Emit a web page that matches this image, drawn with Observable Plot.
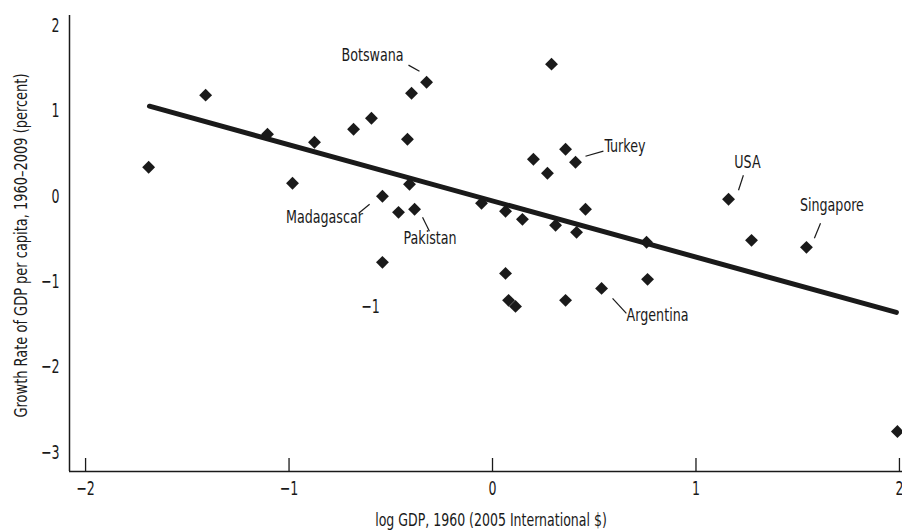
<!DOCTYPE html>
<html><head><meta charset="utf-8">
<script src="https://cdn.jsdelivr.net/npm/d3@7"></script>
<script src="https://cdn.jsdelivr.net/npm/@observablehq/plot@0.6"></script>
<style>
html,body{margin:0;padding:0;background:#fff;}
#chart svg{display:block;}
</style></head><body><div id="chart"></div>
<script>
// log GDP 1960 (x) and growth rate 1960-2009 (y) for each country
const gdp1960 = [-1.690,-1.410,-1.106,-0.875,-0.983,-0.683,-0.595,-0.418,-0.398,-0.324,
  -0.408,-0.541,-0.462,-0.383,-0.541,-0.054,0.064,0.147,0.064,0.079,0.113,
  0.201,0.270,0.290,0.359,0.408,0.310,0.413,0.457,0.359,0.536,0.757,0.762,
  1.160,1.273,1.543,1.990];
const growth = [0.340,1.184,0.727,0.633,0.152,0.785,0.914,0.668,1.207,1.336,
  0.141,0.000,-0.188,-0.152,-0.774,-0.082,-0.176,-0.270,-0.903,-1.219,-1.290,
  0.434,0.270,1.547,0.551,0.399,-0.340,-0.422,-0.152,-1.219,-1.079,-0.539,-0.973,
  -0.035,-0.516,-0.598,-2.755];

// fitted regression line end points
const fitX = [-1.686, 1.985];
const fitY = [1.055, -1.360];

const xTicks = [-2, -1, 0, 1, 2];
const yTicks = [-3, -2, -1, 0, 1, 2];
const xDomain = [-2.079, 2.015];
const yDomain = [-3.223, 2.117];

// annotations
const labelNames = ["Botswana","Madagascar","Pakistan","Turkey","USA","Singapore","Argentina"];
const labelX = [-0.590,-0.826,-0.307,0.651,1.253,1.668,0.811];
const labelY = [1.653,-0.245,-0.492,0.586,0.404,-0.106,-1.395];
const leadX1 = [-0.413,-0.658,-0.344,0.457,1.233,1.612,0.590];
const leadY1 = [1.536,-0.199,-0.246,0.469,0.246,-0.317,-1.196];
const leadX2 = [-0.359,-0.604,-0.310,0.545,1.209,1.582,0.658];
const leadY2 = [1.465,-0.094,-0.410,0.528,0.070,-0.492,-1.372];
const strayText = ["−1"];
const strayX = [-0.600];
const strayY = [-1.290];

const xTitle = "log GDP, 1960 (2005 International $)";
const yTitle = "Growth Rate of GDP per capita, 1960–2009 (percent)";

const pts = gdp1960.map((x, i) => ({x, y: growth[i]}));
const fit = fitX.map((x, i) => ({x, y: fitY[i]}));
const fmt = d => d < 0 ? "−" + Math.abs(d) : String(d);
const ink = "#1a1a1a";
const tickLen = 13 / 85.3;

const chart = Plot.plot({
  width: 902, height: 532,
  marginLeft: 69, marginRight: 0, marginTop: 15, marginBottom: 61,
  style: {fontFamily: "'Liberation Sans Narrow', 'DejaVu Sans Condensed', 'DejaVu Sans', sans-serif", background: "#fff", color: ink},
  x: {domain: xDomain, axis: null},
  y: {domain: yDomain, axis: null},
  marks: [
    Plot.axisX({ticks: xTicks, tickFormat: fmt, tickSize: 0, tickPadding: 10, fontSize: 19.5, label: null}),
    Plot.axisY({ticks: yTicks, tickFormat: fmt, tickSize: 0, tickPadding: 10, fontSize: 19.5, label: null}),
    Plot.ruleX(xTicks, {x: d => d, y1: yDomain[0], y2: yDomain[0] + tickLen, stroke: ink, strokeWidth: 1.3}),
    Plot.ruleX([xDomain[0]], {stroke: ink, strokeWidth: 1.5}),
    Plot.ruleY([yDomain[0]], {stroke: ink, strokeWidth: 1.5}),
    Plot.line(fit, {x: "x", y: "y", stroke: ink, strokeWidth: 5}),
    Plot.dot(pts, {x: "x", y: "y", symbol: "diamond2", r: 5.8, fill: ink, stroke: "none"}),
    Plot.link(labelNames, {x1: (d, i) => leadX1[i], y1: (d, i) => leadY1[i], x2: (d, i) => leadX2[i], y2: (d, i) => leadY2[i], stroke: ink, strokeWidth: 1.2}),
    Plot.text(labelNames, {x: (d, i) => labelX[i], y: (d, i) => labelY[i], text: d => d, fontSize: 18.5, lineAnchor: "middle", fill: ink}),
    Plot.text(strayText, {x: (d, i) => strayX[i], y: (d, i) => strayY[i], text: d => d, fontSize: 19.5, lineAnchor: "middle", fill: ink}),
    Plot.text([xTitle], {frameAnchor: "bottom", text: d => d, dx: 5, dy: 49, fontSize: 17, textAnchor: "middle", lineAnchor: "middle", fill: ink}),
    Plot.text([yTitle], {frameAnchor: "left", text: d => d, dx: -48, dy: 2, rotate: -90, fontSize: 17.5, textAnchor: "middle", lineAnchor: "middle", fill: ink})
  ]
});
document.getElementById("chart").appendChild(chart);

// condense the text horizontally to mimic the narrow typeface of the original
function squeezeFor(s) {
  if (s === xTitle) return 0.82;
  if (labelNames.includes(s)) return 0.763;
  return 0.72;
}
chart.querySelectorAll("text").forEach(t => {
  const s = t.textContent;
  if (!s) return;
  if (s === yTitle) {
    // rotated title: squeeze along its own baseline, keeping it centred
    const tr = t.getAttribute("transform") || "";
    t.setAttribute("transform", tr + " scale(0.825,1)");
    return;
  }
  const w = t.getComputedTextLength();
  if (!(w > 0)) return;
  t.setAttribute("textLength", (w * squeezeFor(s)).toFixed(1));
  t.setAttribute("lengthAdjust", "spacingAndGlyphs");
});
</script></body></html>
